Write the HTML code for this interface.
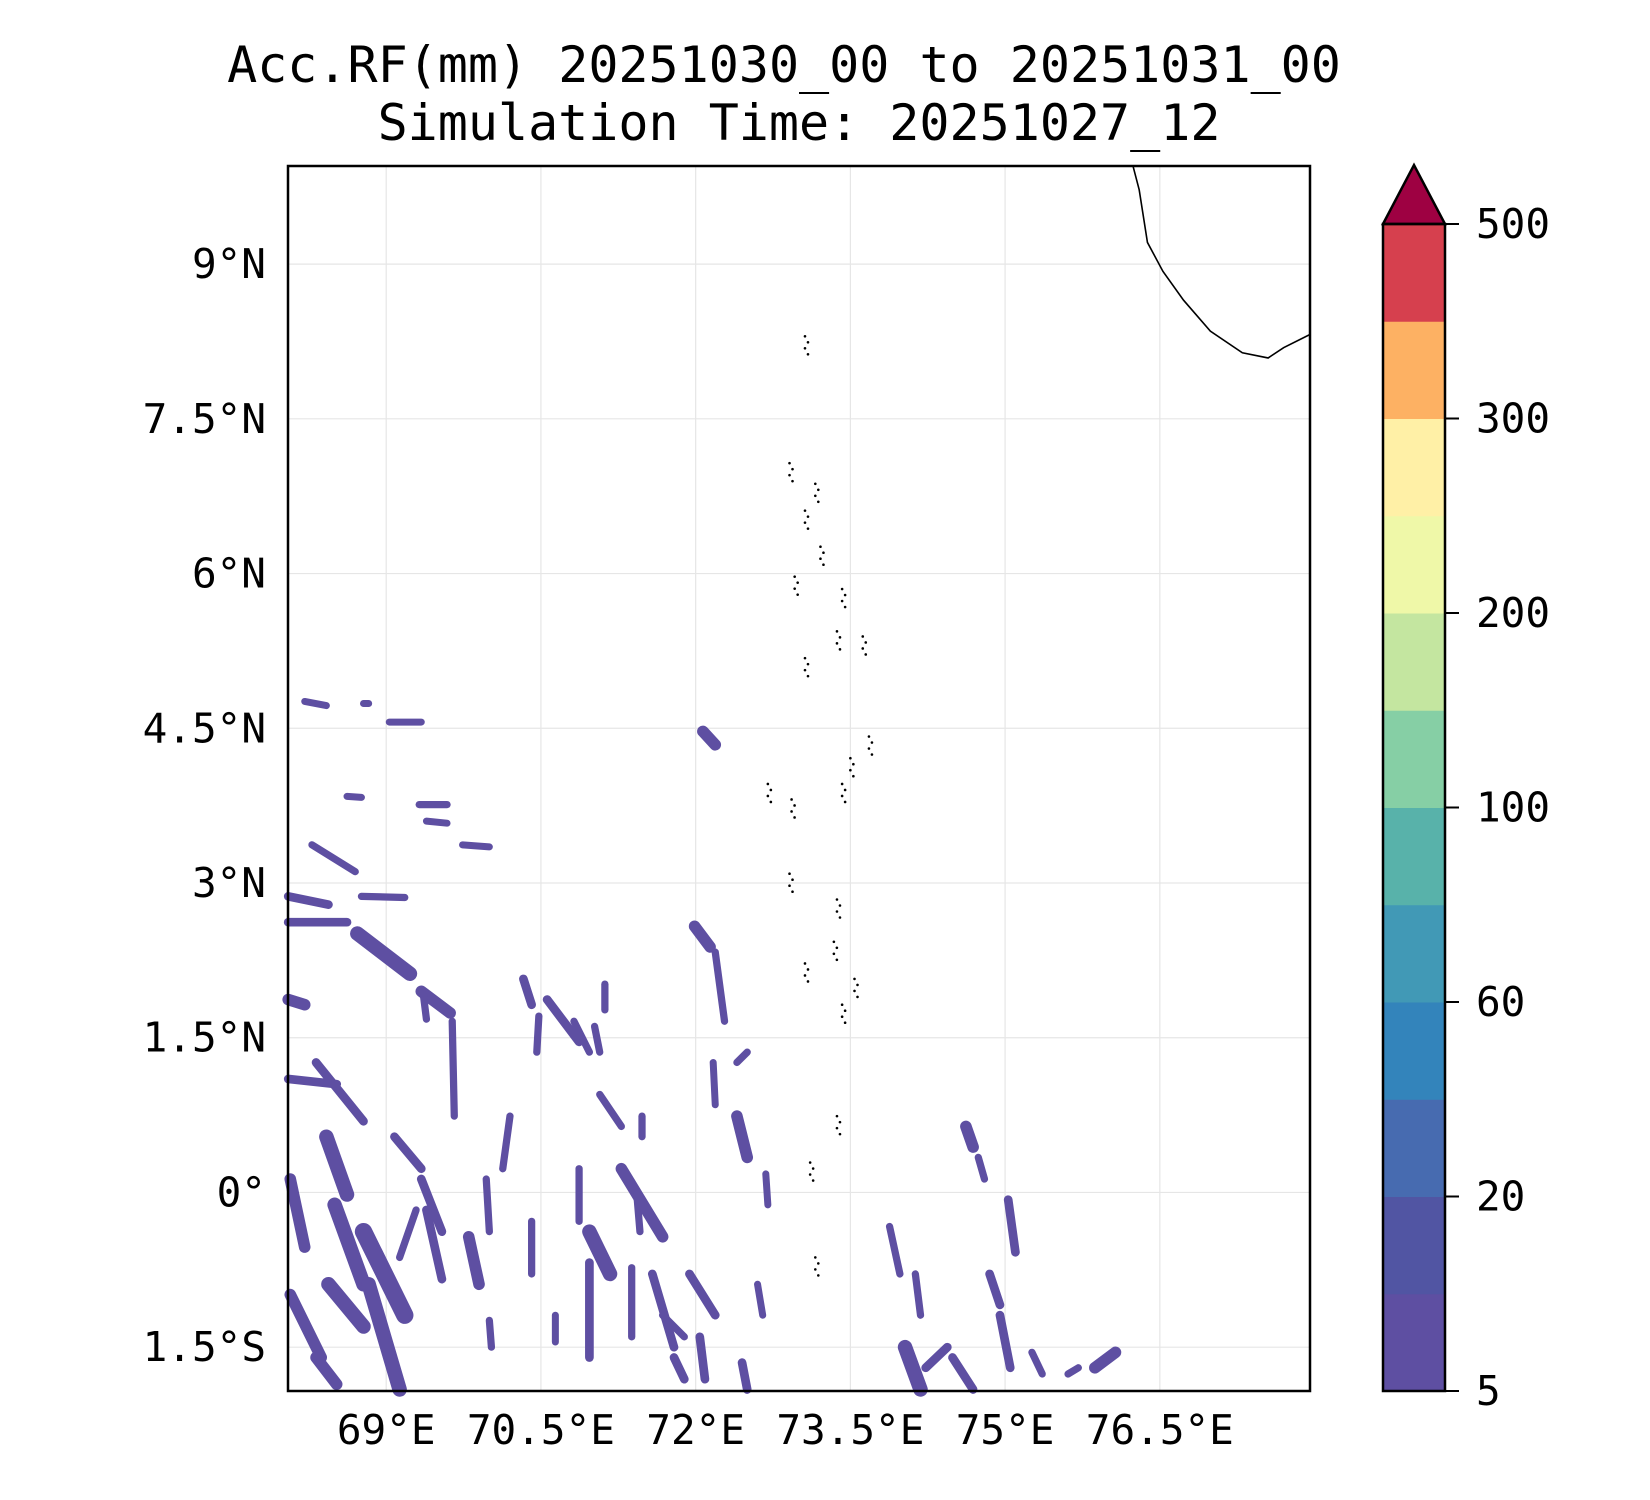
<!DOCTYPE html>
<html><head><meta charset="utf-8"><style>
html,body{margin:0;padding:0;background:#fff;}
svg{display:block;font-family:"DejaVu Sans Mono","Liberation Mono",monospace;}
</style></head><body>
<svg id="chart" width="1650" height="1500" viewBox="0 0 1650 1500" xmlns="http://www.w3.org/2000/svg">
<rect width="1650" height="1500" fill="#fff"/>
<text x="784" y="82" font-size="50" text-anchor="middle">Acc.RF(mm) 20251030_00 to 20251031_00</text>
<text x="799" y="140" font-size="50" text-anchor="middle">Simulation Time: 20251027_12</text>
<g id="grid"></g>
<g id="rain"></g>
<g id="land"></g>
<rect x="288" y="166" width="1022" height="1225" fill="none" stroke="#000" stroke-width="2.5"/>
<g id="axes"></g>
<g id="cbar"></g>
</svg>
<script>
const lonTicks=[69,70.5,72,73.5,75,76.5];
const latTicks=[9,7.5,6,4.5,3,1.5,0,-1.5];
const latLabels=["9°N","7.5°N","6°N","4.5°N","3°N","1.5°N","0°","1.5°S"];
const lonLabels=["69°E","70.5°E","72°E","73.5°E","75°E","76.5°E"];
const cbLevels=[5,10,20,40,60,80,100,150,200,250,300,400,500];
const cbColors=["#5e4fa2","#5155a3","#476bb0","#3384bb","#4199b6","#58b2aa","#86cfa5","#c4e6a0","#eff8a8","#fff0a6","#fdb163","#d6404e"];
const cbTickValues=[5,20,60,100,200,300,500];
// rain streaks: [lon1,lat1,lon2,lat2,width(deg)]
const rainStreaks=[
[68.05,2.87,68.44,2.79,0.06],[68.05,2.62,68.62,2.62,0.06],[68.76,2.87,69.18,2.86,0.05],
[68.28,3.37,68.70,3.11,0.05],[68.72,2.51,69.23,2.12,0.1],[69.34,1.95,69.62,1.74,0.08],
[69.36,1.92,69.39,1.68,0.05],[68.05,1.87,68.21,1.82,0.08],[68.05,1.10,68.52,1.05,0.06],
[68.32,1.26,68.78,0.69,0.06],[68.42,0.54,68.62,-0.02,0.1],[68.07,0.13,68.21,-0.53,0.08],
[68.50,-0.12,68.78,-0.89,0.1],[68.78,-0.38,69.18,-1.19,0.12],[68.83,-0.89,69.13,-1.91,0.1],
[68.07,-0.99,68.37,-1.60,0.08],[68.44,-0.89,68.78,-1.30,0.1],[68.32,-1.60,68.52,-1.86,0.08],
[69.08,0.54,69.34,0.23,0.06],[69.34,0.13,69.54,-0.38,0.06],[69.64,1.66,69.66,0.74,0.05],
[69.39,-0.17,69.54,-0.84,0.06],[69.80,-0.43,69.90,-0.89,0.08],[69.29,-0.17,69.13,-0.63,0.05],
[70.33,2.07,70.41,1.82,0.06],[70.48,1.71,70.46,1.36,0.05],[70.56,1.87,70.87,1.46,0.06],
[70.82,1.66,70.97,1.36,0.05],[71.02,1.61,71.07,1.36,0.05],[71.12,2.02,71.12,1.77,0.05],
[70.20,0.74,70.13,0.23,0.05],[69.97,0.13,70.00,-0.38,0.05],[70.00,-1.24,70.02,-1.50,0.05],
[70.41,-0.28,70.41,-0.79,0.05],[70.64,-1.19,70.64,-1.45,0.04],[70.87,0.23,70.87,-0.28,0.05],
[70.97,-0.38,71.17,-0.79,0.1],[70.97,-0.68,70.97,-1.60,0.06],[71.07,0.95,71.28,0.64,0.05],
[71.28,0.23,71.68,-0.43,0.08],[71.43,-0.02,71.46,-0.38,0.05],[71.48,0.74,71.48,0.54,0.05],
[71.38,-0.73,71.38,-1.40,0.05],[71.58,-0.79,71.79,-1.50,0.06],[71.68,-1.19,71.89,-1.40,0.05],
[71.99,2.58,72.14,2.38,0.08],[72.19,2.33,72.28,1.66,0.05],[72.07,4.47,72.19,4.34,0.08],
[72.40,0.74,72.50,0.34,0.08],[72.50,1.36,72.40,1.26,0.05],[72.17,1.26,72.19,0.85,0.04],
[71.94,-0.79,72.19,-1.19,0.06],[72.04,-1.40,72.09,-1.81,0.06],[72.45,-1.65,72.50,-1.91,0.06],
[72.68,0.18,72.70,-0.12,0.04],[72.60,-0.89,72.65,-1.19,0.04],[71.79,-1.60,71.89,-1.81,0.06],
[73.88,-0.33,73.98,-0.79,0.05],[74.03,-1.50,74.18,-1.91,0.1],[74.23,-1.70,74.44,-1.50,0.06],
[74.49,-1.60,74.69,-1.91,0.06],[74.62,0.64,74.69,0.44,0.08],[74.74,0.34,74.80,0.13,0.05],
[75.03,-0.07,75.10,-0.58,0.06],[74.85,-0.79,74.95,-1.09,0.06],[74.95,-1.19,75.05,-1.70,0.06],
[75.26,-1.55,75.36,-1.76,0.05],[75.87,-1.70,76.07,-1.55,0.08],[74.13,-0.79,74.18,-1.19,0.05],
[75.61,-1.76,75.71,-1.70,0.05],[69.32,3.76,69.59,3.76,0.05],[69.39,3.60,69.59,3.58,0.04],
[69.03,4.56,69.34,4.56,0.03],[68.21,4.76,68.42,4.72,0.03],[68.62,3.84,68.76,3.83,0.04],
[69.74,3.37,70.00,3.35,0.04],[68.78,4.74,68.83,4.74,0.02]
];
const coastLon=[76.24,76.30,76.38,76.53,76.73,76.99,77.30,77.55,77.70,77.96];
const coastLat=[9.95,9.72,9.21,8.93,8.65,8.35,8.14,8.09,8.19,8.32];
const atollLon=[73.06,72.91,73.16,73.06,73.21,72.96,73.42,73.62,73.37,73.06,73.50,73.68,73.42,72.93,72.91,73.37,73.34,73.06,73.54,73.42,73.37,73.11,73.16,72.70];
const atollLat=[8.30,7.07,6.87,6.61,6.26,5.97,5.85,5.39,5.44,5.18,4.21,4.42,3.96,3.81,3.09,2.84,2.43,2.22,2.07,1.82,0.74,0.29,-0.63,3.96];

const NS="http://www.w3.org/2000/svg";
const X=lon=>386.2+(lon-69)*103.15;
const Y=lat=>264.1+(9-lat)*103.15;
const mk=(tag,attrs,parent)=>{const e=document.createElementNS(NS,tag);for(const k in attrs)e.setAttribute(k,attrs[k]);parent.appendChild(e);return e;};
const grid=document.getElementById('grid'),rain=document.getElementById('rain'),land=document.getElementById('land'),axes=document.getElementById('axes'),cbar=document.getElementById('cbar');
lonTicks.forEach((v,i)=>{
  const l=mk('line',{x1:X(v),x2:X(v),y1:166,y2:1391,stroke:'#e6e6e6','stroke-width':1.2},grid);
  
  
  const t=mk('text',{x:X(v),y:1444,'font-size':41,'text-anchor':'middle'},axes);
  t.textContent=lonLabels[i];
  
  
});
latTicks.forEach((v,i)=>{
  const l=mk('line',{x1:288,x2:1310,y1:Y(v),y2:Y(v),stroke:'#e6e6e6','stroke-width':1.2},grid);
  
  
  const t=mk('text',{x:266,y:Y(v)+14,'font-size':41,'text-anchor':'end'},axes);
  t.textContent=latLabels[i];
  
  
});
rainStreaks.forEach(s=>{
  const l=mk('line',{x1:X(s[0]),y1:Y(s[1]),x2:X(s[2]),y2:Y(s[3]),stroke:'#5e4fa2','stroke-width':Math.max(7,s[4]*145),'stroke-linecap':'round'},rain);
  
  
});
const cp=mk('polyline',{points:coastLon.map((v,i)=>X(v)+','+Y(coastLat[i])).join(' '),fill:'none',stroke:'#000','stroke-width':1.6},land);


atollLon.forEach((v,i)=>{
  for(let k=0;k<4;k++){
    const d=mk('circle',{cx:X(v)+(k%2)*3,cy:Y(atollLat[i])+k*6,r:1.3,fill:'#000'},land);
    
    
  }
});
const cbTop=224,cbBot=1391,cbX=1383,cbW=62,seg=(cbBot-cbTop)/cbColors.length;
const cbY=v=>{const i=cbLevels.indexOf(v);return cbBot-i*seg;};
cbColors.forEach((c,i)=>{
  const r=mk('rect',{x:cbX,y:cbBot-(i+1)*seg,width:cbW,height:seg+0.5,fill:c},cbar);
  
  
});
const tri=mk('polygon',{points:`${cbX},${cbTop} ${cbX+cbW/2},165 ${cbX+cbW},${cbTop}`,fill:'#9e0142',stroke:'#000','stroke-width':2.5},cbar);


const fr=mk('rect',{x:cbX,y:cbTop,width:cbW,height:cbBot-cbTop,fill:'none',stroke:'#000','stroke-width':2.5},cbar);


cbTickValues.forEach(v=>{
  const y=cbY(v);
  mk('line',{x1:cbX+cbW,x2:cbX+cbW+14,y1:y,y2:y,stroke:'#000','stroke-width':2},cbar);
  const t=mk('text',{x:1476,y:y+14,'font-size':41},cbar);
  t.textContent=v;
  
  
});
</script>
</body></html>
